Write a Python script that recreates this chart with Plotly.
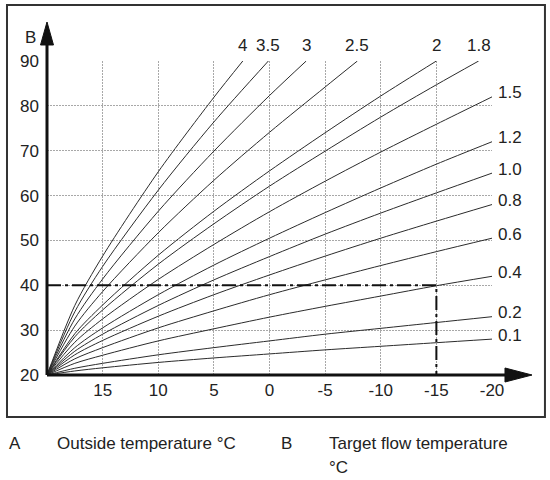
import plotly.graph_objects as go

# heating curves: outside temperature (A) -> target flow temperature (B)
curve_labels = ["4", "3.5", "3", "2.5", "2", "1.8", "1.5", "1.2", "1.0", "0.8", "0.6", "0.4", "0.2", "0.1"]

temp_full = [20, 17.5, 15, 10, 5, 0, -5, -10, -15, -20]

temp_4 = [20, 17.5, 15, 10, 5, 2.4]
flow_4 = [20, 35.5, 46.5, 65.3, 81.9, 90]
temp_3_5 = [20, 17.5, 15, 10, 5, 0.1]
flow_3_5 = [20, 34.1, 44.2, 61.2, 76.4, 90]
temp_3 = [20, 17.5, 15, 10, 5, 0, -3.3]
flow_3 = [20, 32.5, 41.4, 56.5, 69.9, 82.3, 90]
temp_2_5 = [20, 17.5, 15, 10, 5, 0, -5, -7.9]
flow_2_5 = [20, 30.9, 38.6, 51.7, 63.4, 74.1, 84.2, 90]
temp_2 = [20, 17.5, 15, 10, 5, 0, -5, -10, -15]
flow_2 = [20, 29.2, 35.6, 46.7, 56.5, 65.5, 74.0, 82.2, 90]
temp_1_8 = [20, 17.5, 15, 10, 5, 0, -5, -10, -15, -18.8]
flow_1_8 = [20, 28.5, 34.5, 44.7, 53.7, 62.1, 69.9, 77.5, 84.7, 90]
flow_1_5 = [20, 27.3, 32.5, 41.3, 49.1, 56.4, 63.2, 69.7, 75.9, 82]
flow_1_2 = [20, 26.1, 30.5, 37.9, 44.5, 50.5, 56.2, 61.7, 67, 72]
flow_1_0 = [20, 25.3, 29.1, 35.5, 41.2, 46.4, 51.4, 56.1, 60.6, 65]
flow_0_8 = [20, 24.5, 27.7, 33.1, 37.9, 42.3, 46.5, 50.5, 54.3, 58]
flow_0_6 = [20, 23.6, 26.1, 30.5, 34.3, 37.9, 41.2, 44.4, 47.5, 50.5]
flow_0_4 = [20, 22.6, 24.4, 27.6, 30.3, 32.9, 35.3, 37.6, 39.9, 42]
flow_0_2 = [20, 21.5, 22.6, 24.5, 26.1, 27.6, 29.1, 30.4, 31.7, 33]
flow_0_1 = [20, 20.9, 21.6, 22.8, 23.8, 24.7, 25.6, 26.4, 27.2, 28]

# example reading
example_temp = [20, -15, -15]
example_flow = [40, 40, 20]

x_ticks = [15, 10, 5, 0, -5, -10, -15, -20]
y_ticks = [20, 30, 40, 50, 60, 70, 80, 90]

curves = [
    (temp_4, flow_4), (temp_3_5, flow_3_5), (temp_3, flow_3), (temp_2_5, flow_2_5),
    (temp_2, flow_2), (temp_1_8, flow_1_8), (temp_full, flow_1_5), (temp_full, flow_1_2),
    (temp_full, flow_1_0), (temp_full, flow_0_8), (temp_full, flow_0_6),
    (temp_full, flow_0_4), (temp_full, flow_0_2), (temp_full, flow_0_1),
]

FONT = "Liberation Sans, Arial, sans-serif"
INK = "#222222"

fig = go.Figure()

for (tx, fy) in curves:
    fig.add_trace(go.Scatter(
        x=tx, y=fy, mode="lines",
        line=dict(color="#2b2b2b", width=1, shape="spline", smoothing=0.8),
        hoverinfo="skip",
    ))

fig.add_trace(go.Scatter(
    x=example_temp, y=example_flow, mode="lines",
    line=dict(color="#111111", width=2, dash="14px,4px,3px,4px"),
    hoverinfo="skip",
))

annotations = []
for lab, (tx, fy) in zip(curve_labels, curves):
    if fy[-1] >= 90:
        # label above the top end of the curve
        annotations.append(dict(x=tx[-1], y=fy[-1], text=lab, showarrow=False,
                                xanchor="center", yanchor="bottom", yshift=4))
    else:
        annotations.append(dict(x=tx[-1], y=fy[-1], text=lab, showarrow=False,
                                xanchor="left", yanchor="middle", xshift=4, yshift=4))

annotations += [
    dict(xref="paper", yref="paper", x=-0.038, y=1.076, text="B", showarrow=False,
         xanchor="center", yanchor="middle"),
    dict(x=-22.5, yref="paper", y=-0.048, text="A", showarrow=False,
         xanchor="center", yanchor="middle"),
    dict(xref="paper", yref="paper", x=-0.0899, y=-0.2166, text="A", showarrow=False,
         xanchor="left", yanchor="middle"),
    dict(xref="paper", yref="paper", x=0.018, y=-0.2166, text="Outside temperature °C",
         showarrow=False, xanchor="left", yanchor="middle"),
    dict(xref="paper", yref="paper", x=0.521, y=-0.2166, text="B", showarrow=False,
         xanchor="left", yanchor="middle"),
    dict(xref="paper", yref="paper", x=0.629, y=-0.2166, text="Target flow temperature",
         showarrow=False, xanchor="left", yanchor="middle"),
    dict(xref="paper", yref="paper", x=0.629, y=-0.293, text="°C", showarrow=False,
         xanchor="left", yanchor="middle"),
]

shapes = [
    # outer frame
    dict(type="rect", xref="paper", yref="paper", x0=-0.0899, x1=1.119, y0=-0.1338, y1=1.178,
         line=dict(color="#333333", width=2)),
    # axes with arrows
    dict(type="line", xref="paper", yref="paper", x0=0, x1=0, y0=0, y1=1.06,
         line=dict(color="#111111", width=3)),
    dict(type="line", xref="paper", yref="paper", x0=0, x1=1.04, y0=0, y1=0,
         line=dict(color="#111111", width=3)),
    dict(type="path", xref="paper", yref="paper",
         path="M -0.0146 1.051 L 0.0146 1.051 L 0 1.1242 Z",
         fillcolor="#111111", line=dict(color="#111111", width=1)),
    dict(type="path", xref="paper", yref="paper",
         path="M 1.0292 -0.0223 L 1.0292 0.0223 L 1.0899 0 Z",
         fillcolor="#111111", line=dict(color="#111111", width=1)),
]

fig.update_layout(
    width=550, height=480,
    margin=dict(l=47, r=58, t=61, b=105),
    paper_bgcolor="white", plot_bgcolor="white",
    showlegend=False,
    font=dict(family=FONT, size=17, color=INK),
    annotations=annotations,
    shapes=shapes,
    xaxis=dict(range=[20, -20], tickvals=x_ticks, ticktext=[str(v) for v in x_ticks],
               showgrid=True, gridcolor="#a8a8a8", griddash="2px,1px", gridwidth=1,
               zeroline=False, showline=False, ticks="", ticklabelstandoff=3,
               automargin=False, fixedrange=True),
    yaxis=dict(range=[20, 90], tickvals=y_ticks,
               showgrid=True, gridcolor="#a8a8a8", griddash="2px,1px", gridwidth=1,
               zeroline=False, showline=False, ticks="", ticklabelstandoff=7,
               automargin=False, fixedrange=True),
)

# drop the page's default body margin so the figure sits at the window's corner
fig.write_html("out.html", config={"displayModeBar": False},
               post_script="document.body.style.margin='0';document.body.style.overflow='hidden';")
